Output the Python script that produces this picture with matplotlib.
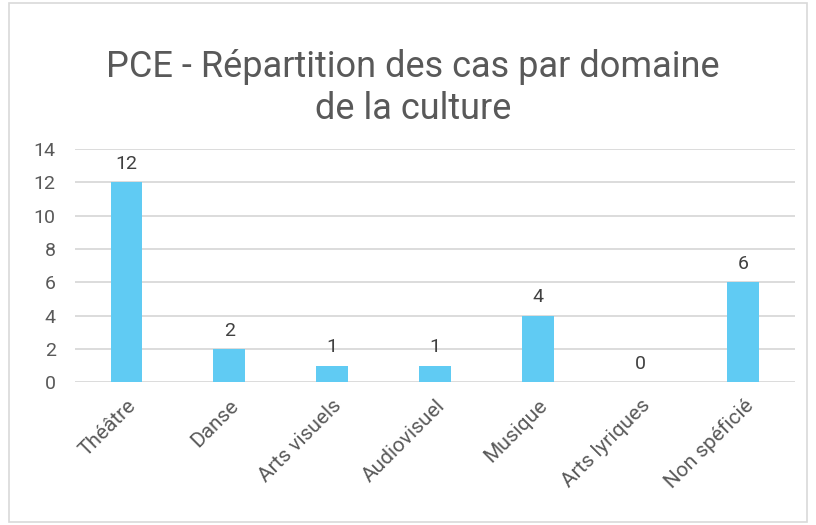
import matplotlib.pyplot as plt
from matplotlib.patches import Rectangle

plt.rcParams['font.family'] = ['Roboto', 'DejaVu Sans']

categories = ["Théâtre", "Danse", "Arts visuels", "Audiovisuel", "Musique", "Arts lyriques", "Non spéficié"]
values = [12, 2, 1, 1, 4, 0, 6]

grey = "#595959"

fig = plt.figure(figsize=(8.16, 5.25), dpi=100)
ax = fig.add_axes([0.092, 0.272, 0.882, 0.444])

x = range(len(categories))
bars = ax.bar(x, values, width=0.31, color="#60cbf3", zorder=3)
for xi, v in zip(x, values):
    ax.text(xi, v + 0.55, str(v), ha="center", va="bottom", fontsize=14, color="#404040")

ax.set_xlim(-0.5, len(categories) - 0.5)
ax.set_ylim(0, 14)
ax.set_yticks(range(0, 15, 2))
ax.grid(axis="y", color="#d9d9d9", linewidth=1.3, zorder=0)
for s in ax.spines.values():
    s.set_visible(False)
ax.tick_params(length=0)
ax.tick_params(axis="y", labelsize=14, labelcolor=grey, pad=14)
ax.set_xticks(list(x))
ax.set_xticklabels(categories, rotation=45, ha="right", rotation_mode="anchor",
                   fontsize=15, color=grey)
ax.tick_params(axis="x", pad=10)

fig.text(0.506, 0.832, "PCE - Répartition des cas par domaine\nde la culture",
         ha="center", va="center", fontsize=26, color=grey, linespacing=1.2)

fig.patches.append(Rectangle((0.011, 0.006), 0.978, 0.988, transform=fig.transFigure,
                             fill=False, edgecolor="#d9d9d9", linewidth=1.2))

fig.savefig("out.png", dpi=100)
